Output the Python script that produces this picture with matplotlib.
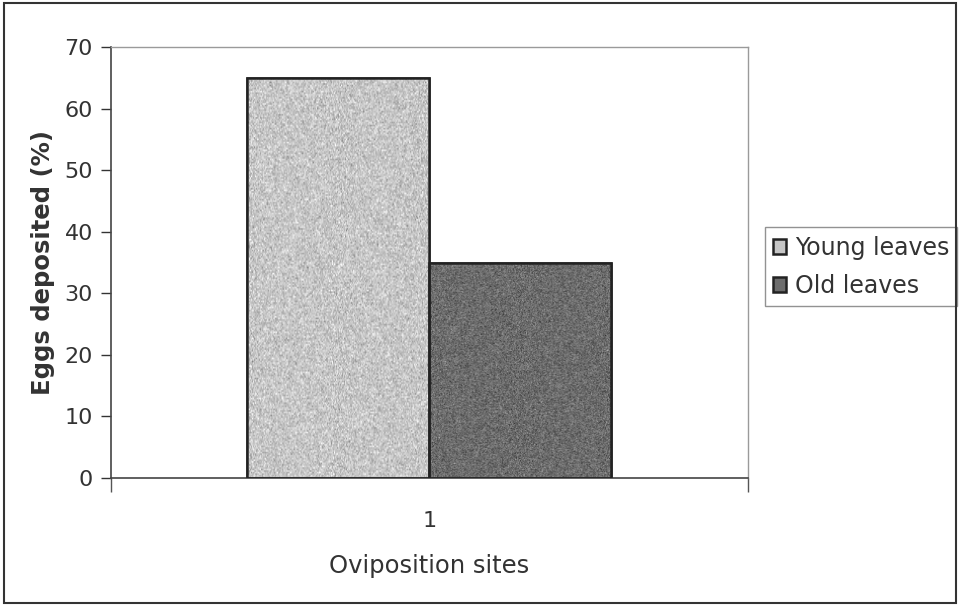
import numpy as np
import matplotlib.pyplot as plt
from matplotlib.patches import Rectangle

# data
sites = ["1"]
series = ["Young leaves", "Old leaves"]
eggs = [65, 35]
colours = ["#c6c6c6", "#6c6c6c"]

fig = plt.figure(figsize=(9.6, 6.06), dpi=100)
ax = fig.add_axes([0.1156, 0.2112, 0.6635, 0.7112])

x = np.arange(len(sites))
width = 1 / 3.5
rng = np.random.default_rng(3)
for i, (name, val, col) in enumerate(zip(series, eggs, colours)):
    bars = ax.bar(x + (i - 0.5) * width, [val], width, color=col,
                  edgecolor="#222222", linewidth=1.8, label=name, zorder=2)
    # grainy stipple over each bar, clipped to the bar outline
    for b in bars:
        base = np.array(plt.matplotlib.colors.to_rgb(col)).mean()
        grain = np.clip(base + rng.normal(0, 0.08, (260, 180)), 0, 1)
        im = ax.imshow(grain, cmap="gray", vmin=0, vmax=1, aspect="auto",
                       extent=[b.get_x(), b.get_x() + b.get_width(), 0, b.get_height()],
                       zorder=2.5, interpolation="bilinear")
        im.set_clip_path(b)
        ax.add_patch(Rectangle((b.get_x(), 0), b.get_width(), b.get_height(),
                               fill=False, edgecolor="#222222", linewidth=1.8, zorder=3))

ax.set_xlim(-0.5, 0.5)
ax.set_ylim(0, 70)
ax.set_yticks(range(0, 71, 10))
ax.set_xticks(x)
ax.set_xticklabels(sites)
ax.set_xticks([-0.5, 0.5], minor=True)
ax.tick_params(axis="x", which="major", length=0, pad=24, labelsize=16, colors="#333333")
ax.tick_params(axis="x", which="minor", length=10, width=1, color="#555555")
ax.tick_params(axis="y", length=7, width=1, labelsize=16, colors="#333333", pad=6)
for s in ["top", "right"]:
    ax.spines[s].set_color("#9a9a9a")
    ax.spines[s].set_linewidth(1)
for s in ["left", "bottom"]:
    ax.spines[s].set_color("#444444")
    ax.spines[s].set_linewidth(1.2)

ax.set_ylabel("Eggs deposited (%)", fontsize=17.5, fontweight="bold", color="#333333", labelpad=7)
ax.set_xlabel("Oviposition sites", fontsize=17.5, color="#333333", labelpad=16)

leg = ax.legend(loc="center left", bbox_to_anchor=(1.027, 0.49), fontsize=17,
                frameon=True, fancybox=False, handlelength=0.55, handleheight=0.55,
                handletextpad=0.35, borderpad=0.35, labelspacing=0.6, borderaxespad=0)
leg.get_frame().set_edgecolor("#777777")
leg.get_frame().set_linewidth(1)
for t in leg.get_texts():
    t.set_color("#333333")

# outer chart border
fig.patches.append(Rectangle((0.004, 0.005), 0.992, 0.99, transform=fig.transFigure,
                             fill=False, edgecolor="#333333", linewidth=1.5))

fig.savefig("out.png", dpi=100)
